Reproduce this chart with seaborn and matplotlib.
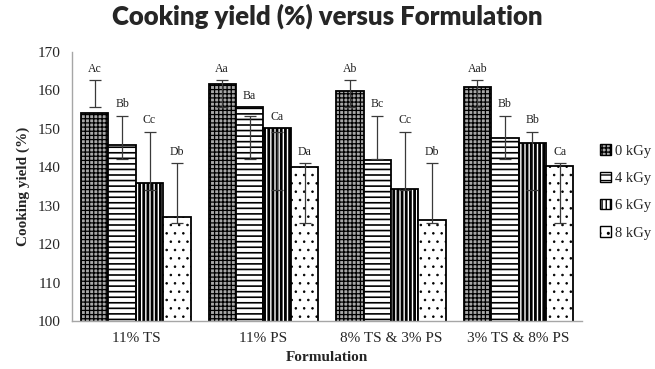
import numpy as np
import pandas as pd
import seaborn as sns
import matplotlib.pyplot as plt
from matplotlib.patches import Patch

OUT = "out.png"

formulations = ["11% TS", "11% PS", "8% TS & 3% PS", "3% TS & 8% PS"]
doses = ["0 kGy", "4 kGy", "6 kGy", "8 kGy"]

# mean cooking yield, one list per dose (in formulation order)
yield_0 = [154.1, 161.8, 159.8, 160.8]
yield_4 = [145.8, 155.6, 141.8, 147.5]
yield_6 = [135.8, 150.2, 134.3, 146.3]
yield_8 = [127.1, 140.1, 126.2, 140.3]

# error bar ends as drawn (same for every formulation in the source chart)
err_low = [155.7, 142.2, 134.1, 125.6]
err_high = [162.7, 153.4, 149.3, 141.0]

# significance letters
letters_0 = ["Ac", "Aa", "Ab", "Aab"]
letters_4 = ["Bb", "Ba", "Bc", "Bb"]
letters_6 = ["Cc", "Ca", "Cc", "Bb"]
letters_8 = ["Db", "Da", "Db", "Ca"]

hatches = ["++++", "---", "||||", ".."]
hatch_lw = [0.9, 1.2, 2.0, 0.6]
fills = ["#a8a8a8", "white", "white", "white"]


def style_patch(p, i):
    p.set_facecolor(fills[i])
    p.set_hatch(hatches[i])
    p.set_edgecolor("black")
    if hasattr(p, "set_hatch_linewidth"):
        p.set_hatch_linewidth(hatch_lw[i])


def main():
    values = [yield_0, yield_4, yield_6, yield_8]
    letters = [letters_0, letters_4, letters_6, letters_8]
    df = pd.DataFrame({
        "Formulation": formulations * len(doses),
        "Dose": np.repeat(doses, len(formulations)),
        "Yield": np.concatenate(values),
    })

    sns.set_style("white")
    plt.rcParams["font.family"] = ["Liberation Serif", "DejaVu Serif"]
    plt.rcParams["hatch.linewidth"] = 1.0

    fig = plt.figure(figsize=(6.55, 3.69), dpi=100)
    ax = fig.add_axes([0.110, 0.130, 0.779, 0.729])

    sns.barplot(data=df, x="Formulation", y="Yield", hue="Dose", order=formulations,
                hue_order=doses, errorbar=None, width=0.86, edgecolor="black",
                linewidth=1.3, legend=False, ax=ax)

    bar_conts = list(ax.containers)
    for i, cont in enumerate(bar_conts):
        for j, bar in enumerate(cont.patches):
            style_patch(bar, i)
            xc = bar.get_x() + bar.get_width() / 2
            mid = (err_low[i] + err_high[i]) / 2
            half = (err_high[i] - err_low[i]) / 2
            ax.errorbar(xc, mid, yerr=half, fmt="none", ecolor="#3a3a3a",
                        elinewidth=0.9, capsize=4, capthick=0.9, zorder=5)
            top = max(values[i][j], err_high[i])
            ax.annotate(letters[i][j], (xc, top), xytext=(0, 4), textcoords="offset points",
                        ha="center", va="bottom", fontsize=8.5, color="#222222")

    ax.set_ylim(100, 170)
    ax.set_xlim(-0.5, 3.5)
    ax.set_yticks(range(100, 171, 10))
    ax.set_xticks(range(len(formulations)))
    ax.set_xticks(np.arange(-0.5, 4, 1), minor=True)
    ax.tick_params(axis="x", which="major", length=0, labelsize=11, pad=8)
    ax.tick_params(axis="x", which="minor", length=5, color="#a6a6a6", direction="out")
    ax.tick_params(axis="y", length=5, color="#a6a6a6", direction="out", labelsize=11, pad=3)
    sns.despine(ax=ax)
    for s in ["left", "bottom"]:
        ax.spines[s].set_color("#a6a6a6")
        ax.spines[s].set_linewidth(1.0)

    ax.set_xlabel("Formulation", fontsize=11, fontweight="bold", labelpad=4)
    ax.set_ylabel("Cooking yield (%)", fontsize=11, fontweight="bold", labelpad=6)

    fig.suptitle("Cooking yield (%) versus Formulation", x=0.5, y=0.99,
                 fontsize=18.5, fontweight="heavy", family=["Lato", "DejaVu Sans"])

    handles = []
    for i in range(len(doses)):
        h = Patch(label=doses[i])
        style_patch(h, i)
        handles.append(h)
    fig.legend(handles=handles, loc="center left", bbox_to_anchor=(0.905, 0.48),
               frameon=False, fontsize=10.5, handlelength=0.75, handleheight=0.75,
               handletextpad=0.25, labelspacing=0.95, borderpad=0)

    fig.savefig(OUT, dpi=100)
    plt.close(fig)


if __name__ == "__main__":
    main()
